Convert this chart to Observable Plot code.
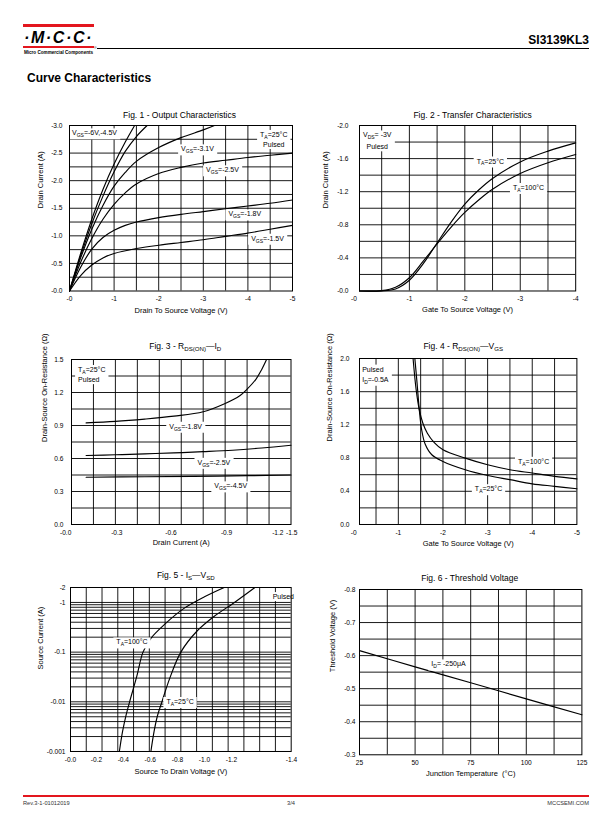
<!DOCTYPE html>
<html><head><meta charset="utf-8">
<script src="https://cdn.jsdelivr.net/npm/d3@7"></script>
<script src="https://cdn.jsdelivr.net/npm/@observablehq/plot@0.6"></script>
<style>
body{margin:0;background:#fff;}
#page{position:relative;width:612px;height:825px;overflow:hidden;font-family:"Liberation Sans",Arial,Helvetica,sans-serif;color:#000;background:#fff;}
.abs{position:absolute;white-space:nowrap;}
</style></head><body><div id="page"></div>
<script>
// ---------- Fig. 1 - Output Characteristics (V_DS [V], I_D [A]) ----------
const fig1Vgs6  = [[0,0],[-0.25,-0.68],[-0.5,-1.3],[-0.75,-1.84],[-1,-2.3],[-1.25,-2.7],[-1.46,-3.0]];
const fig1Vgs45 = [[0,0],[-0.25,-0.64],[-0.5,-1.22],[-0.75,-1.72],[-1,-2.16],[-1.25,-2.53],[-1.5,-2.8],[-1.74,-3.0]];
const fig1Vgs31 = [[0,0],[-0.25,-0.6],[-0.5,-1.12],[-0.75,-1.55],[-1,-1.9],[-1.25,-2.15],[-1.5,-2.35],[-2,-2.6],[-2.5,-2.78],[-3,-2.92],[-3.25,-3.0]];
const fig1Vgs25 = [[0,0],[-0.25,-0.52],[-0.5,-0.95],[-0.75,-1.3],[-1,-1.57],[-1.25,-1.78],[-1.5,-1.94],[-2,-2.13],[-2.5,-2.24],[-3,-2.32],[-3.5,-2.37],[-4,-2.42],[-4.5,-2.46],[-5,-2.5]];
const fig1Vgs18 = [[0,0],[-0.25,-0.43],[-0.5,-0.76],[-0.75,-0.97],[-1,-1.1],[-1.25,-1.19],[-1.5,-1.25],[-2,-1.33],[-2.5,-1.39],[-3,-1.44],[-3.5,-1.49],[-4,-1.54],[-4.5,-1.59],[-5,-1.65]];
const fig1Vgs15 = [[0,0],[-0.25,-0.28],[-0.5,-0.47],[-0.75,-0.6],[-1,-0.68],[-1.5,-0.77],[-2,-0.83],[-2.5,-0.88],[-3,-0.93],[-3.5,-0.99],[-4,-1.05],[-4.5,-1.12],[-5,-1.19]];
const fig1XTicks = [0,-1,-2,-3,-4,-5];
const fig1XTickLabels = ["-0","-1","-2","-3","-4","-5"];
const fig1YTicks = [0,-0.5,-1,-1.5,-2,-2.5,-3];
const fig1YTickLabels = ["-0.0","-0.5","-1.0","-1.5","-2.0","-2.5","-3.0"];
const fig1Notes = [
  {x:-0.56, y:-2.88, t:"V_{GS}=-6V,-4.5V"},
  {x:-4.58, y:-2.76, t:"T_{A}=25°C\nPulsed"},
  {x:-2.87, y:-2.59, t:"V_{GS}=-3.1V"},
  {x:-3.43, y:-2.21, t:"V_{GS}=-2.5V"},
  {x:-3.93, y:-1.41, t:"V_{GS}=-1.8V"},
  {x:-4.44, y:-0.97, t:"V_{GS}=-1.5V"}];

// ---------- Fig. 2 - Transfer Characteristics (V_GS [V], I_D [A]) ----------
const fig2T25  = [[-0.1,0],[-0.5,-0.002],[-0.75,-0.025],[-1,-0.13],[-1.25,-0.33],[-1.5,-0.58],[-1.75,-0.83],[-2,-1.05],[-2.25,-1.22],[-2.5,-1.36],[-3,-1.56],[-3.5,-1.69],[-4,-1.79]];
const fig2T100 = [[-0.1,0],[-0.5,-0.005],[-0.75,-0.045],[-1,-0.16],[-1.25,-0.36],[-1.5,-0.57],[-1.75,-0.77],[-2,-0.95],[-2.25,-1.1],[-2.5,-1.23],[-3,-1.42],[-3.5,-1.55],[-4,-1.65]];
const fig2XTicks = [0,-1,-2,-3,-4];
const fig2XTickLabels = ["-0","-1","-2","-3","-4"];
const fig2YTicks = [0,-0.4,-0.8,-1.2,-1.6,-2.0];
const fig2YTickLabels = ["-0.0","-0.4","-0.8","-1.2","-1.6","-2.0"];
const fig2Notes = [
  {x:-0.42, y:-1.83, t:"V_{DS}= -3V\nPulesd", lh:1.7},
  {x:-2.46, y:-1.58, t:"T_{A}=25°C"},
  {x:-3.15, y:-1.26, t:"T_{A}=100°C"}];

// ---------- Fig. 3 - R_DS(ON) vs I_D (I_D [A], R [ohm]) ----------
const fig3Vgs18 = [[-0.1,0.924],[-0.3,0.937],[-0.5,0.958],[-0.7,0.985],[-0.9,1.025],[-1.05,1.1],[-1.15,1.17],[-1.2,1.23],[-1.26,1.32],[-1.3,1.41],[-1.333,1.5]];
const fig3Vgs25 = [[-0.1,0.627],[-0.3,0.634],[-0.5,0.642],[-0.7,0.651],[-0.9,0.662],[-1.1,0.675],[-1.3,0.695],[-1.5,0.72]];
const fig3Vgs45 = [[-0.1,0.43],[-0.5,0.434],[-1.0,0.44],[-1.5,0.45]];
const fig3XTickLabels = ["-0.0","-0.3","-0.6","-0.9","-1.2","-1.5"];
const fig3XTickAt = [0.04,-0.31,-0.68,-1.06,-1.41,-1.505]; // where the printed labels sit on the grid
const fig3YTicks = [0,0.3,0.6,0.9,1.2,1.5];
const fig3YTickLabels = ["0.0","0.3","0.6","0.9","1.2","1.5"];
const fig3Notes = [
  {x:-0.045, y:1.37, t:"T_{A}=25°C\nPulsed", anchor:"start"},
  {x:-0.78, y:0.90, t:"V_{GS}=-1.8V"},
  {x:-0.973, y:0.572, t:"V_{GS}=-2.5V"},
  {x:-1.088, y:0.358, t:"V_{GS}=-4.5V"}];

// ---------- Fig. 4 - R_DS(ON) vs V_GS (V_GS [V], R [ohm]) ----------
const fig4T25  = [[-1.37,2.0],[-1.42,1.7],[-1.47,1.38],[-1.52,1.15],[-1.6,0.97],[-1.75,0.84],[-2,0.76],[-2.5,0.66],[-3,0.59],[-3.5,0.54],[-4,0.49],[-4.5,0.46],[-5,0.43]];
const fig4T100 = [[-1.33,2.0],[-1.4,1.62],[-1.47,1.38],[-1.55,1.22],[-1.65,1.1],[-1.8,0.99],[-2,0.9],[-2.5,0.8],[-3,0.72],[-3.5,0.66],[-4,0.62],[-4.5,0.58],[-5,0.55]];
const fig4XTicks = [0,-1,-2,-3,-4,-5];
const fig4XTickLabels = ["-0","-1","-2","-3","-4","-5"];
const fig4YTicks = [0,0.4,0.8,1.2,1.6,2.0];
const fig4YTickLabels = ["0.0","0.4","0.8","1.2","1.6","2.0"];
const fig4Notes = [
  {x:-0.19, y:1.82, t:"Pulsed\nI_{D}=-0.5A", anchor:"start"},
  {x:-4.03, y:0.77, t:"T_{A}=100°C"},
  {x:-3.02, y:0.44, t:"T_{A}=25°C"}];

// ---------- Fig. 5 - I_S vs V_SD (V_SD [V], I_S [A], log) ----------
const fig5T100 = [[-0.31,-0.001],[-0.33,-0.0025],[-0.35,-0.005],[-0.375,-0.01],[-0.42,-0.032],[-0.46,-0.1],[-0.51,-0.19],[-0.6,-0.37],[-0.72,-0.76],[-0.85,-1.3],[-0.975,-2.0]];
const fig5T25  = [[-0.51,-0.001],[-0.53,-0.0025],[-0.55,-0.005],[-0.58,-0.01],[-0.63,-0.03],[-0.7,-0.1],[-0.8,-0.26],[-0.91,-0.52],[-1.04,-1.0],[-1.17,-2.0]];
const fig5XTickLabels = ["-0.0","-0.2","-0.4","-0.6","-0.8","-1.0","-1.2","-1.4"];
const fig5XTickAt = [0.0,-0.165,-0.335,-0.506,-0.679,-0.85,-1.021,-1.402]; // where the printed labels sit on the grid
const fig5YTicks = [-0.001,-0.01,-0.1,-1,-2];
const fig5YTickLabels = ["-0.001","-0.01","-0.1","-1","-2"];
const fig5Notes = [
  {x:-1.35, y:-1.36, t:"Pulsed"},
  {x:-0.39, y:-0.166, t:"T_{A}=100°C"},
  {x:-0.695, y:-0.0105, t:"T_{A}=25°C"}];

// ---------- Fig. 6 - Threshold Voltage (T_J [°C], V_th [V]) ----------
const fig6Tj  = [25,50,75,100,125];
const fig6Vth = [-0.615,-0.566,-0.518,-0.469,-0.421];
const fig6XTicks = [25,50,75,100,125];
const fig6XTickLabels = ["25","50","75","100","125"];
const fig6YTicks = [-0.3,-0.4,-0.5,-0.6,-0.7,-0.8];
const fig6YTickLabels = ["-0.3","-0.4","-0.5","-0.6","-0.7","-0.8"];
const fig6Notes = [{x:65, y:-0.577, t:"I_{D}= -250μA"}];

// ---------------------------------------------------------------------
const FONT = '"Liberation Sans", Arial, Helvetica, sans-serif';
const NS = "http://www.w3.org/2000/svg";
const NOTE_FILL = "#010101";
const TICK_FS = 6.6;
const page = document.getElementById("page");
const ticks = (vals, labels) => vals.map((v, i) => ({v, t: labels[i]}));
const steps = (start, step, n) => d3.range(1, n + 1).map(i => +(start + step * i).toFixed(6));

function applySubs(root) {
  const walker = document.createTreeWalker(root, NodeFilter.SHOW_TEXT);
  const nodes = [];
  while (walker.nextNode()) if (walker.currentNode.nodeValue.includes("_{")) nodes.push(walker.currentNode);
  for (const n of nodes) {
    const parent = n.parentNode;
    const parts = n.nodeValue.split(/(_\{[^}]*\})/).filter(p => p);
    let down = false;
    for (const p of parts) {
      const t = document.createElementNS(NS, "tspan");
      if (p.startsWith("_{")) {
        t.textContent = p.slice(2, -1);
        t.style.fontSize = "0.72em";
        if (!down) t.setAttribute("dy", "2");
        down = true;
      } else {
        t.textContent = p;
        if (down) t.setAttribute("dy", "-2");
        down = false;
      }
      parent.insertBefore(t, n);
    }
    parent.removeChild(n);
  }
}

function chart(o) {
  const [L, R, T, B] = o.frame;
  const ML = 52, MR = 24, MT = 26, MB = 32;
  const yf = o.yf || (v => v);
  const lineStyle = {stroke: "#000", strokeWidth: 0.9};
  const marks = [
    Plot.ruleX(o.gridX, lineStyle),
    Plot.ruleY(o.gridY, {y: d => yf(d), ...lineStyle}),
    ...o.series.map(s => Plot.line(s, {x: d => d[0], y: d => yf(d[1]), curve: "catmull-rom", stroke: "#000", strokeWidth: 1.15})),
    ...o.notes.map(n => Plot.text([n], {x: d => d.x, y: d => yf(d.y), text: d => d.t, textAnchor: n.anchor || "middle",
      lineAnchor: "middle", lineHeight: n.lh || 1.45, fontSize: 7, fill: NOTE_FILL})),
    Plot.text(o.xTicks, {x: d => d.v, text: d => d.t, frameAnchor: "bottom", lineAnchor: "middle", dy: 8, fontSize: TICK_FS}),
    Plot.text(o.yTicks, {y: d => yf(d.v), text: d => d.t, frameAnchor: "left", textAnchor: "end", lineAnchor: "middle", dx: o.yTickDx, fontSize: TICK_FS}),
    Plot.text([o.title], {text: d => d, frameAnchor: "top", lineAnchor: "middle", dy: o.titleDy, dx: o.titleDx || 0, fontSize: 8.5}),
    Plot.text([o.xTitle], {text: d => d, frameAnchor: "bottom", lineAnchor: "middle", dy: o.xTitleDy, fontSize: 7.5}),
    Plot.text([o.yTitle], {text: d => d, frameAnchor: "left", lineAnchor: "middle", rotate: -90, dx: o.yTitleDx, fontSize: 7.5}),
    Plot.frame({stroke: "#000", strokeWidth: 1})
  ];
  const svg = Plot.plot({
    width: ML + (R - L) + MR, height: MT + (B - T) + MB,
    marginLeft: ML, marginRight: MR, marginTop: MT, marginBottom: MB,
    x: {domain: o.xDomain, axis: null},
    y: {domain: o.yDomain, type: o.yType || "linear", axis: null},
    style: {fontFamily: FONT, fontSize: "7px", color: "#000", background: "transparent", overflow: "visible"},
    marks
  });
  svg.style.position = "absolute";
  svg.style.left = (L - ML) + "px";
  svg.style.top = (T - MT) + "px";
  page.appendChild(svg);
  applySubs(svg);
  svg.querySelectorAll(`g[fill="${NOTE_FILL}"] text`).forEach(tx => {
    const b = tx.getBBox();
    const r = document.createElementNS(NS, "rect");
    r.setAttribute("x", b.x - 3); r.setAttribute("y", b.y - 1);
    r.setAttribute("width", b.width + 6); r.setAttribute("height", b.height + 2);
    r.setAttribute("fill", "#fff");
    if (tx.getAttribute("transform")) r.setAttribute("transform", tx.getAttribute("transform"));
    tx.parentNode.insertBefore(r, tx);
  });
}

chart({frame: [68.5, 291.5, 124.5, 290], xDomain: [0, -5], yDomain: [0, -3],
  gridX: steps(0, -0.5, 9), gridY: steps(0, -0.25, 11),
  series: [fig1Vgs6, fig1Vgs45, fig1Vgs31, fig1Vgs25, fig1Vgs18, fig1Vgs15], notes: fig1Notes,
  xTicks: ticks(fig1XTicks, fig1XTickLabels), yTicks: ticks(fig1YTicks, fig1YTickLabels),
  title: "Fig. 1 - Output Characteristics", titleDy: -10, titleDx: -1.5,
  xTitle: "Drain To Source Voltage (V)", xTitleDy: 20, yTitle: "Drain Current (A)", yTitleDx: -28.5, yTickDx: -7});

chart({frame: [359.3, 575.5, 125, 290.5], xDomain: [-0.1, -4], yDomain: [0, -2],
  gridX: steps(0, -0.5, 7), gridY: steps(0, -0.2, 9),
  series: [fig2T25, fig2T100], notes: fig2Notes,
  xTicks: ticks(fig2XTicks, fig2XTickLabels), yTicks: ticks(fig2YTicks, fig2YTickLabels),
  title: "Fig. 2 - Transfer Characteristics", titleDy: -10.5, titleDx: 5,
  xTitle: "Gate To Source Voltage (V)", xTitleDy: 19, yTitle: "Drain Current (A)", yTitleDx: -34, yTickDx: -11});

chart({frame: [71, 290.5, 359, 524], xDomain: [0, -1.5], yDomain: [0, 1.5],
  gridX: steps(0, -0.15, 9), gridY: steps(0, 0.15, 9),
  series: [fig3Vgs18, fig3Vgs25, fig3Vgs45], notes: fig3Notes,
  xTicks: ticks(fig3XTickAt, fig3XTickLabels), yTicks: ticks(fig3YTicks, fig3YTickLabels),
  title: "Fig. 3 - R_{DS(ON)}—I_{D}", titleDy: -13, titleDx: 4,
  xTitle: "Drain Current (A)", xTitleDy: 18.5, yTitle: "Drain-Source On-Resistance (Ω)", yTitleDx: -27, yTickDx: -8});

chart({frame: [359.3, 576.7, 358.3, 524.3], xDomain: [-0.13, -5], yDomain: [0, 2],
  gridX: steps(0, -0.5, 9), gridY: steps(0, 0.2, 9),
  series: [fig4T25, fig4T100], notes: fig4Notes,
  xTicks: ticks(fig4XTicks, fig4XTickLabels), yTicks: ticks(fig4YTicks, fig4YTickLabels),
  title: "Fig. 4 - R_{DS(ON)}—V_{GS}", titleDy: -12.5, titleDx: -5,
  xTitle: "Gate To Source Voltage (V)", xTitleDy: 19, yTitle: "Drain-Source On-Resistance (Ω)", yTitleDx: -30, yTickDx: -10});

const fig5GridY = [];
for (const e of [-3, -2, -1]) for (let k = 1; k <= 9; k++) fig5GridY.push(-k * Math.pow(10, e));
fig5GridY.push(-1);
chart({frame: [70, 290.7, 586.5, 750.5], xDomain: [0, -1.4], yDomain: [0.001, 2], yType: "log", yf: v => -v,
  gridX: steps(0, -0.1, 13), gridY: fig5GridY,
  series: [fig5T100, fig5T25], notes: fig5Notes,
  xTicks: ticks(fig5XTickAt, fig5XTickLabels), yTicks: ticks(fig5YTicks, fig5YTickLabels),
  title: "Fig. 5 - I_{S}—V_{SD}", titleDy: -12.5, titleDx: 5,
  xTitle: "Source To Drain Voltage (V)", xTitleDy: 20, yTitle: "Source Current (A)", yTitleDx: -29.5, yTickDx: -5});

chart({frame: [359.3, 581.7, 589, 754.3], xDomain: [25, 125], yDomain: [-0.3, -0.8],
  gridX: steps(25, 12.5, 7), gridY: steps(-0.3, -0.05, 9),
  series: [fig6Tj.map((t, i) => [t, fig6Vth[i]])], notes: fig6Notes,
  xTicks: ticks(fig6XTicks, fig6XTickLabels), yTicks: ticks(fig6YTicks, fig6YTickLabels),
  title: "Fig. 6 - Threshold Voltage", titleDy: -11.5, titleDx: -1,
  xTitle: "Junction Temperature \u00a0(°C)", xTitleDy: 18.7, yTitle: "Threshold Voltage (V)", yTitleDx: -27, yTickDx: -4});

// ---------- header & footer ----------
function div(style, html) {
  const d = document.createElement("div");
  d.className = "abs"; d.style.cssText = style; d.innerHTML = html || "";
  page.appendChild(d);
}
div("left:23px;top:24px;width:71px;height:2.5px;background:#e3161e;");
div("left:23px;top:28.5px;width:71px;text-align:center;font:italic bold 16px/17px " + FONT + ";letter-spacing:1.6px;", "·M·C·C·");
div("left:23px;top:45.5px;width:71px;height:2.5px;background:#e3161e;");
div("left:23px;top:49.5px;width:71px;text-align:center;font:bold 4.6px/5px " + FONT + ";", "Micro Commercial Components");
div("left:94px;top:46px;font:3.5px/4px " + FONT + ";", "®");
div("left:97px;top:47.5px;width:492px;height:1px;background:#000;");
div("right:23px;top:33px;font:bold 12px/14px " + FONT + ";", "SI3139KL3");
div("left:27px;top:71px;font:bold 12px/14px " + FONT + ";", "Curve Characteristics");
div("left:23px;top:795px;width:566px;height:1.5px;background:#e3161e;");
div("left:23px;top:800px;font:5.7px/7px " + FONT + ";color:#333;", "Rev.3-1-01012019");
div("left:281px;top:800px;width:20px;text-align:center;font:5.7px/7px " + FONT + ";color:#333;", "3/4");
div("right:23px;top:800px;font:5.7px/7px " + FONT + ";color:#333;", "MCCSEMI.COM");
</script></body></html>
